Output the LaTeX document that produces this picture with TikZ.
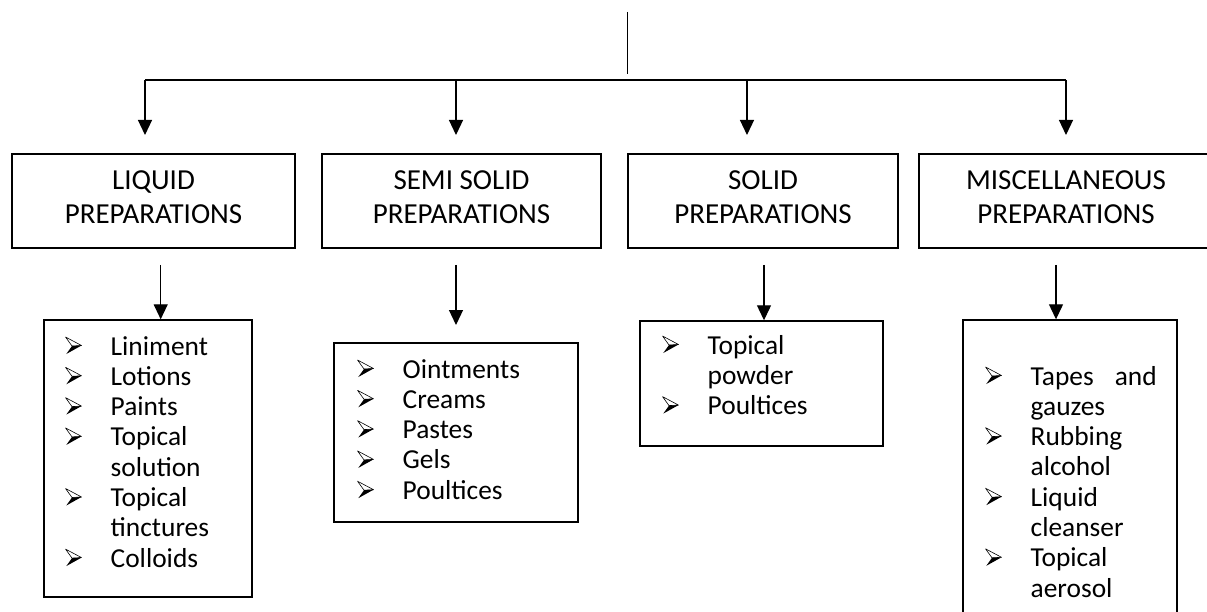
\documentclass[tikz,border=0pt]{standalone}
\usepackage{fontspec}
\setmainfont{Carlito}
\usetikzlibrary{arrows.meta}
\newcommand\bul{\tikz[baseline=0pt,x=1pt,y=1pt]{%
  \fill[black,line join=round] (0.8,1)--(16,9.5)--(6.5,9)--cycle;
  \draw[black,line width=0.6pt,line join=round] (0,18)--(16,9.5)--(6.5,9)--cycle;}}
\newcommand\itm[1]{\makebox[45.5pt][l]{\bul}&#1\\}
\newcommand\cnt[1]{&#1\\}
\begin{document}
\begin{tikzpicture}[x=1pt,y=-1pt,
  conn/.style={line width=1.2pt},
  arr/.style={line width=1.2pt,-{Triangle[width=14pt,length=15pt]}},
  hbox/.style={draw,line width=1.4pt,minimum height=94pt,inner sep=0pt},
  ibox/.style={draw,line width=1.4pt,inner sep=0pt},
  htext/.style={anchor=base,inner sep=0pt,font=\fontsize{29}{34.5}\selectfont},
  ltext/.style={anchor=base west,inner sep=0pt,font=\fontsize{27.4}{30.3}\selectfont}]
\useasboundingbox[fill=white] (0,0) rectangle (1207,612);

% header boxes
\node[hbox,minimum width=283pt] (lb) at (153.5,201) {};
\node[hbox,minimum width=279pt] (sb) at (461.5,201) {};
\node[hbox,minimum width=270pt] (ob) at (763,201) {};
\node[hbox,minimum width=293pt] (mb) at (1065.5,201) {};
\node[htext] (lt) at (153.5,189.5) {\begin{tabular}[t]{@{}c@{}}LIQUID\\PREPARATIONS\end{tabular}};
\node[htext] (st) at (461.5,189.5) {\begin{tabular}[t]{@{}c@{}}SEMI SOLID\\PREPARATIONS\end{tabular}};
\node[htext] (ot) at (763,189.5) {\begin{tabular}[t]{@{}c@{}}SOLID\\PREPARATIONS\end{tabular}};
\node[htext] (mt) at (1066,189.5) {\begin{tabular}[t]{@{}c@{}}MISCELLANEOUS\\PREPARATIONS\end{tabular}};

% top connectors
\coordinate (top1) at (627.7,12);
\coordinate (top2) at (627.7,74);
\draw[conn] (top1) -- (top2);
\coordinate (h1) at (145,80);
\coordinate (h2) at (456,80);
\coordinate (h3) at (747,80);
\coordinate (h4) at (1066,80);
\draw[conn] (h1) -- (h4);
\coordinate (t1) at (145,135);
\coordinate (t2) at (456,135);
\coordinate (t3) at (747,135);
\coordinate (t4) at (1066,135);
\draw[arr] (h1) -- (t1);
\draw[arr] (h2) -- (t2);
\draw[arr] (h3) -- (t3);
\draw[arr] (h4) -- (t4);

% item boxes
\node[ibox,minimum width=208pt,minimum height=277pt] (il) at (148,458.5) {};
\node[ibox,minimum width=244pt,minimum height=179pt] (is) at (456,432.5) {};
\node[ibox,minimum width=243pt,minimum height=125pt] (io) at (761.5,383.5) {};
\node[ibox,minimum width=214pt,minimum height=310pt] (im) at (1070,475) {};

% second-level arrows
\coordinate (s1) at (160.7,265);
\coordinate (s2) at (456,265);
\coordinate (e2) at (456,325);
\coordinate (s3) at (764,265);
\coordinate (s4) at (1056,265);
\draw[arr] (s1) -- (s1 |- il.north);
\draw[arr] (s2) -- (e2);
\draw[arr] (s3) -- (s3 |- io.north);
\draw[arr] (s4) -- (s4 |- im.north);

% lists
\node[ltext] (ll) at (65,355) {\begin{tabular}[t]{@{}l@{}l@{}}
\itm{Liniment}\itm{Lotions}\itm{Paints}\itm{Topical}\cnt{solution}\itm{Topical}\cnt{tinctures}\itm{Colloids}
\end{tabular}};
\node[ltext] (sl) at (357,378) {\begin{tabular}[t]{@{}l@{}l@{}}
\itm{Ointments}\itm{Creams}\itm{Pastes}\itm{Gels}\itm{Poultices}
\end{tabular}};
\node[ltext] (ol) at (662,354) {\begin{tabular}[t]{@{}l@{}l@{}}
\itm{Topical}\cnt{powder}\itm{Poultices}
\end{tabular}};
\node[ltext] (ml) at (985,385) {\begin{tabular}[t]{@{}l@{}l@{}}
\itm{\makebox[126pt][s]{Tapes and}}\cnt{gauzes}\itm{Rubbing}\cnt{alcohol}\itm{Liquid}\cnt{cleanser}\itm{Topical}\cnt{aerosol}
\end{tabular}};
\end{tikzpicture}
\end{document}
